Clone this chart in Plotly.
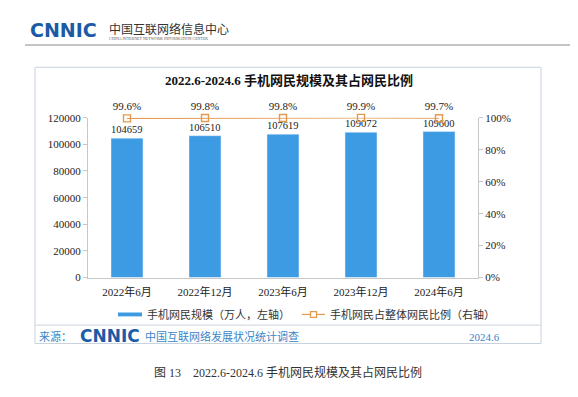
import plotly.graph_objects as go

# ---- data ----
categories = ["2022年6月", "2022年12月", "2023年6月", "2023年12月", "2024年6月"]
mobile_users = [104659, 106510, 107619, 109072, 109600]   # 万人
mobile_share = [0.996, 0.998, 0.998, 0.999, 0.997]        # share of all netizens
left_ticks = [0, 20000, 40000, 60000, 80000, 100000, 120000]
right_ticks = [0, 0.2, 0.4, 0.6, 0.8, 1.0]

# page body has an 8px margin: size the figure so it ends at the window edge
OFF = 8
W, H = 578 - OFF, 397 - OFF
def px(x): return (x - OFF) / W
def py(y): return 1 - (y - OFF) / H

SERIF = "Liberation Serif, Noto Sans CJK SC, serif"
BAR_C = "#3d9be3"
LINE_C = "#e39a4f"
BLUE_T = "#3a86c8"
LOGO_C = "#1b5aa6"
AX_C = "#c8c8c8"

fig = go.Figure()
fig.add_trace(go.Bar(
    x=categories, y=mobile_users, width=0.41, marker_color=BAR_C,
    text=[str(v) for v in mobile_users], textposition="outside",
    textfont=dict(family=SERIF, size=11, color="#222"),
    cliponaxis=False, showlegend=False, yaxis="y"))
fig.add_trace(go.Scatter(
    x=categories, y=mobile_share, mode="lines+markers+text", yaxis="y2",
    line=dict(color=LINE_C, width=1.2),
    marker=dict(symbol="square-open", size=7, color=LINE_C, line=dict(width=1.4)),
    texttemplate="%{y:.1%}", textposition="top center",
    textfont=dict(family=SERIF, size=11, color="#222"),
    cliponaxis=False, showlegend=False))

fig.update_layout(
    width=W, height=H, margin=dict(l=0, r=0, t=0, b=0),
    paper_bgcolor="white", plot_bgcolor="rgba(0,0,0,0)",
    font=dict(family=SERIF, size=11, color="#222"),
    xaxis=dict(domain=[px(88), px(478)], showline=True, linecolor=AX_C, linewidth=1,
               ticks="", ticklabelstandoff=4,
               tickfont=dict(family=SERIF, size=11, color="#222"),
               showgrid=False, fixedrange=True),
    yaxis=dict(range=[0, 120000], tickvals=left_ticks, tickformat="d",
               showgrid=False, zeroline=False, domain=[py(280), py(115)],
               showline=True, linecolor=AX_C, ticks="outside", ticklen=4, tickcolor=AX_C,
               tickfont=dict(family=SERIF, size=11, color="#222"), anchor="x"),
    yaxis2=dict(range=[0, 1], tickvals=right_ticks, tickformat=".0%", overlaying="y",
                side="right", showgrid=False, zeroline=False,
                showline=True, linecolor=AX_C, ticks="outside", ticklen=4, tickcolor=AX_C,
                tickfont=dict(family=SERIF, size=11, color="#222"), anchor="x"),
    bargap=0.59,
)

shapes = []
# outer chart frame
shapes.append(dict(type="rect", xref="paper", yref="paper", x0=px(35), x1=px(541),
                   y0=py(348), y1=py(63), line=dict(color="#c9d3de", width=1)))
# separator above source strip
shapes.append(dict(type="line", xref="paper", yref="paper", x0=px(35), x1=px(541),
                   y0=py(329), y1=py(329), line=dict(color="#c9d3de", width=1)))
# header rule
shapes.append(dict(type="line", xref="paper", yref="paper", x0=px(25), x1=px(578),
                   y0=py(40), y1=py(40), line=dict(color="#8a8a8a", width=1)))
# legend: bar swatch
shapes.append(dict(type="rect", xref="paper", yref="paper", x0=px(118), x1=px(142),
                   y0=py(320), y1=py(316), fillcolor=BAR_C, line=dict(width=0)))
# legend: line swatch
shapes.append(dict(type="line", xref="paper", yref="paper", x0=px(302), x1=px(325),
                   y0=py(318), y1=py(318), line=dict(color=LINE_C, width=1.2)))
shapes.append(dict(type="rect", xref="paper", yref="paper", x0=px(310.5), x1=px(316.5),
                   y0=py(321), y1=py(315), fillcolor="white", line=dict(color=LINE_C, width=1.3)))
fig.update_layout(shapes=shapes)

def ann(text, x, y, size=11, color="#222", xanchor="center", family=SERIF, bold=False):
    if bold:
        text = "<b>" + text + "</b>"
    return dict(text=text, x=px(x), y=py(y), xref="paper", yref="paper",
                xanchor=xanchor, yanchor="middle", showarrow=False,
                font=dict(family=family, size=size, color=color))

annotations = [
    ann("2022.6-2024.6 手机网民规模及其占网民比例", 289, 77, size=13, bold=True, color="#111"),
    ann("手机网民规模（万人，左轴）", 145, 318, size=11, xanchor="left", color="#333"),
    ann("手机网民占整体网民比例（右轴）", 328, 318, size=11, xanchor="left", color="#333"),
    # header
    ann("CNNIC", 28, 25, size=19, color=LOGO_C, xanchor="left",
        family="DejaVu Sans, sans-serif", bold=True),
    ann("中国互联网络信息中心", 107, 24, size=12, color="#333", xanchor="left"),
    ann("CHINA INTERNET NETWORK INFORMATION CENTER", 107, 33, size=4, color="#555", xanchor="left"),
    # source strip
    ann("来源：", 37, 341, size=11, color=BLUE_T, xanchor="left"),
    ann("CNNIC", 78, 340, size=17, color=LOGO_C, xanchor="left",
        family="DejaVu Sans, sans-serif", bold=True),
    ann("中国互联网络发展状况统计调查", 143, 341, size=11, color=BLUE_T, xanchor="left"),
    ann("2024.6", 484, 341, size=11, color=BLUE_T),
    # caption
    ann("图 13    2022.6-2024.6 手机网民规模及其占网民比例", 288, 378, size=12, color="#333"),
]
fig.update_layout(annotations=annotations)

fig.write_html("out.html")
